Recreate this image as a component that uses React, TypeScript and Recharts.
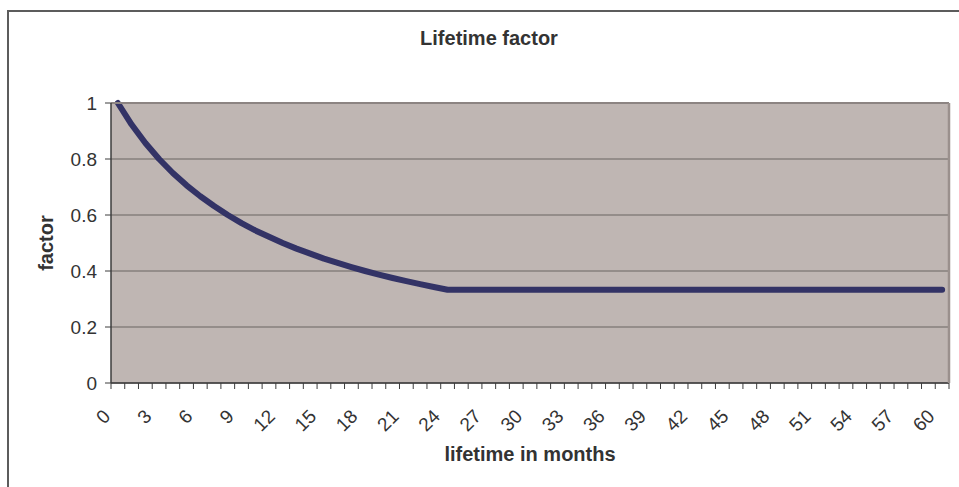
import React from "react";
import { LineChart, Line, XAxis, YAxis, CartesianGrid } from "recharts";

const months: number[] = [
  0, 1, 2, 3, 4, 5, 6, 7, 8, 9, 10, 11, 12, 13, 14, 15, 16, 17, 18, 19, 20,
  21, 22, 23, 24, 25, 26, 27, 28, 29, 30, 31, 32, 33, 34, 35, 36, 37, 38, 39,
  40, 41, 42, 43, 44, 45, 46, 47, 48, 49, 50, 51, 52, 53, 54, 55, 56, 57, 58,
  59, 60,
];

const factorValues: number[] = [
  1, 0.923, 0.857, 0.8, 0.75, 0.706, 0.667, 0.632, 0.6, 0.571, 0.545, 0.522,
  0.5, 0.48, 0.462, 0.444, 0.429, 0.414, 0.4, 0.387, 0.375, 0.364, 0.353,
  0.343, 0.333, 0.333, 0.333, 0.333, 0.333, 0.333, 0.333, 0.333, 0.333, 0.333,
  0.333, 0.333, 0.333, 0.333, 0.333, 0.333, 0.333, 0.333, 0.333, 0.333, 0.333,
  0.333, 0.333, 0.333, 0.333, 0.333, 0.333, 0.333, 0.333, 0.333, 0.333, 0.333,
  0.333, 0.333, 0.333, 0.333, 0.333,
];

const xTickLabels: number[] = [
  0, 3, 6, 9, 12, 15, 18, 21, 24, 27, 30, 33, 36, 39, 42, 45, 48, 51, 54, 57, 60,
];

const yTicks: number[] = [0, 0.2, 0.4, 0.6, 0.8, 1];

const data = months.map((m, i) => ({ month: m, factor: factorValues[i] }));
const boundaryTicks = months.map((m) => m - 0.5).concat([months[months.length - 1] + 0.5]);
const xDomain: [number, number] = [months[0] - 0.5, months[months.length - 1] + 0.5];

const FONT = "'Liberation Sans', Arial, sans-serif";
const TEXT = "#333333";

const XTick = (props: any) => {
  const { x, y, payload } = props;
  return (
    <g transform={`translate(${x - 16},${y})`}>
      <text
        textAnchor="end"
        transform="rotate(-45)"
        dy="0.71em"
        fontSize={19}
        fill={TEXT}
        fontFamily={FONT}
      >
        {payload.value}
      </text>
    </g>
  );
};

export default function App() {
  return (
    <div
      style={{
        position: "absolute",
        left: 0,
        top: 0,
        width: 959,
        height: 487,
        overflow: "hidden",
        background: "#ffffff",
      }}
    >
      <div
        style={{
          position: "absolute",
          left: 7,
          top: 10,
          width: 1200,
          height: 800,
          border: "2px solid #5c5c5c",
        }}
      />
      <div
        style={{
          position: "absolute",
          left: 0,
          top: 27,
          width: 978,
          textAlign: "center",
          fontFamily: FONT,
          fontWeight: "bold",
          fontSize: 20,
          color: TEXT,
        }}
      >
        Lifetime factor
      </div>
      <div style={{ position: "absolute", left: 0, top: 0 }}>
        <LineChart
          width={959}
          height={487}
          data={data}
          margin={{ top: 102, right: 9, left: 0, bottom: 0 }}
        >
          <CartesianGrid
            xAxisId="b"
            yAxisId="left"
            vertical={false}
            fill="#BFB6B3"
            stroke="#6a6462"
            strokeWidth={1.2}
          />
          <XAxis
            xAxisId="b"
            dataKey="month"
            type="number"
            domain={xDomain}
            ticks={xTickLabels}
            interval={0}
            height={103}
            axisLine={false}
            tickLine={false}
            tickSize={6}
            tickMargin={18}
            tick={<XTick />}
            label={{
              value: "lifetime in months",
              position: "insideBottom",
              offset: 26,
              style: {
                fontFamily: FONT,
                fontWeight: "bold",
                fontSize: 20,
                fill: TEXT,
              },
            }}
          />
          <XAxis
            xAxisId="a"
            dataKey="month"
            type="number"
            domain={xDomain}
            ticks={boundaryTicks}
            interval={0}
            tickFormatter={() => ""}
            height={1}
            tickSize={6}
            axisLine={{ stroke: "#3c3c3c", strokeWidth: 1.5 }}
            tickLine={{ stroke: "#3c3c3c" }}
          />
          <XAxis
            xAxisId="top"
            orientation="top"
            dataKey="month"
            type="number"
            domain={xDomain}
            height={1}
            tick={false}
            tickLine={false}
            axisLine={{ stroke: "#8c8482", strokeWidth: 2 }}
          />
          <YAxis
            yAxisId="left"
            domain={[0, 1]}
            ticks={yTicks}
            width={111}
            tickSize={6}
            tickMargin={8}
            axisLine={{ stroke: "#3c3c3c", strokeWidth: 1.5 }}
            tickLine={{ stroke: "#3c3c3c" }}
            tick={{ fontSize: 19, fill: TEXT, fontFamily: FONT }}
            label={{
              value: "factor",
              angle: -90,
              position: "insideLeft",
              offset: 46,
              style: {
                textAnchor: "middle",
                fontFamily: FONT,
                fontWeight: "bold",
                fontSize: 20,
                fill: TEXT,
              },
            }}
          />
          <YAxis
            yAxisId="right"
            orientation="right"
            domain={[0, 1]}
            width={1}
            tick={false}
            tickLine={false}
            axisLine={{ stroke: "#9a908d", strokeWidth: 2.5 }}
          />
          <Line
            xAxisId="b"
            yAxisId="left"
            dataKey="factor"
            type="linear"
            stroke="#333366"
            strokeWidth={6}
            strokeLinecap="round"
            strokeLinejoin="round"
            dot={false}
            activeDot={false}
            isAnimationActive={false}
          />
        </LineChart>
      </div>
    </div>
  );
}
